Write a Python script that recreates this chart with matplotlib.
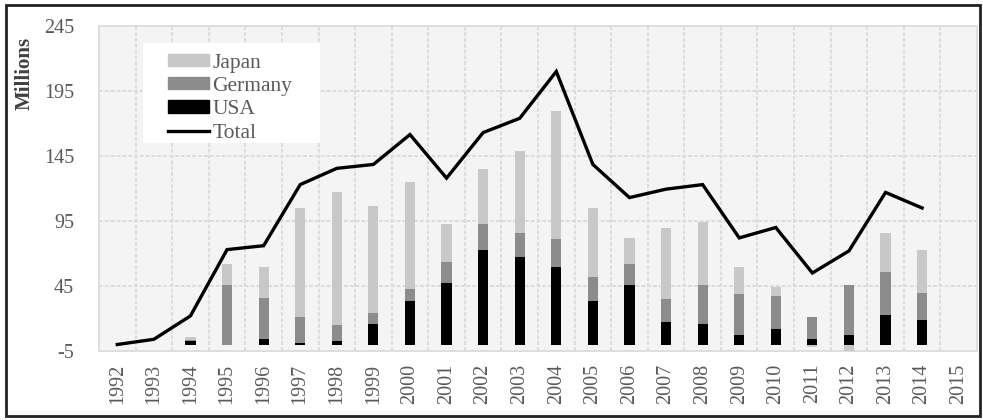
import matplotlib.pyplot as plt
import numpy as np
from matplotlib.patches import Rectangle, Patch
from matplotlib.lines import Line2D

plt.rcParams['font.family'] = ['Liberation Serif', 'DejaVu Serif']
plt.rcParams['axes.unicode_minus'] = False

years = [str(y) for y in range(1992, 2016)]

# values in millions (None = no value)
usa = [0, 0, 3, 0, 4.5, 1, 3, 16, 33.5, 47.5, 73, 67, 60, 33.5, 46, 17, 15.5, 7, 12, 4, 7, 22.5, 19, 0]
germany = [0, 0, 0.5, 46, 31, 20, 12, 8, 9.5, 16, 20, 18.5, 21, 18.5, 16, 18, 30.5, 31.5, 25, 17.5, 39, 33.5, 21, 0]
japan = [0, 0, 2, 16, 24, 84, 102, 82.5, 82, 29.5, 42, 63.5, 99, 53, 20, 55, 48, 21.5, 7.5, -2, -7, 29.5, 33, 0]
total = [0, 4, 22, 73, 76, 123, 135.5, 138.5, 161.5, 128, 163, 174, 210, 138.5, 113, 119.5, 123, 82, 90, 55, 72, 117, 105, None]

fig = plt.figure(figsize=(9.83, 4.2), dpi=100)
ax = fig.add_axes([99 / 983, 1 - 351 / 420, 878 / 983, 325 / 420])

x = np.arange(len(years))
usa = np.array(usa, dtype=float)
germany = np.array(germany, dtype=float)
japan = np.array(japan, dtype=float)
w = 0.28

ax.bar(x, usa, w, color='#000000', zorder=3)
ax.bar(x, germany, w, bottom=usa, color='#8c8c8c', zorder=3)
# negative Japan values hang below zero, like Excel does
jap_bottom = np.where(japan >= 0, usa + germany, 0)
ax.bar(x, japan, w, bottom=jap_bottom, color='#c8c8c8', zorder=3)

tot = np.array([np.nan if v is None else v for v in total])
ax.plot(x, tot, color='black', lw=2.4, zorder=4, solid_joinstyle='miter')

ax.set_xlim(-0.5, len(years) - 0.5)
ax.set_ylim(-5, 245)
ax.set_yticks([-5, 45, 95, 145, 195, 245])
ax.set_xticks(x)
ax.set_xticklabels(years, rotation=90)
ax.set_xticks(x[:-1] + 0.5, minor=True)
ax.tick_params(axis='both', which='both', length=0, labelsize=14.5, colors='#5a5a5a')
ax.tick_params(axis='x', pad=9)
ax.tick_params(axis='y', pad=18)
ax.set_facecolor('#f4f4f4')
ax.grid(True, axis='y', which='major', color='#dcdcdc', lw=1.4, ls=(0, (2, 1)), zorder=1)
ax.grid(True, axis='x', which='minor', color='#dcdcdc', lw=1.4, ls=(0, (2, 1)), zorder=1)
for s in ax.spines.values():
    s.set_color('#dedede')
    s.set_linewidth(1.4)

ax.set_ylabel('Millions', fontsize=15, fontweight='bold', color='#404040')
ax.yaxis.set_label_coords(-0.073, 0.855)

# white box behind the legend (wider than the entries, as in the original)
ax.add_patch(Rectangle((0.0501, 0.64), 0.2016, 0.3077, transform=ax.transAxes,
                       facecolor='white', edgecolor='none', zorder=5))
handles = [Patch(color='#c8c8c8'), Patch(color='#8c8c8c'), Patch(color='#000000'),
           Line2D([], [], color='black', lw=2.4)]
leg = ax.legend(handles, ['Japan', 'Germany', 'USA', 'Total'], loc='upper left',
                bbox_to_anchor=(0.0786, 0.915), borderaxespad=0, borderpad=0,
                fontsize=15.5, frameon=False,
                handlelength=1.9, handleheight=0.5, handletextpad=0.15,
                labelspacing=0.2)
for t in leg.get_texts():
    t.set_color('#5a5a5a')
leg.set_zorder(6)

fig.patches.append(Rectangle((6 / 983, 4 / 420), 974 / 983, 411 / 420, transform=fig.transFigure,
                             fill=False, edgecolor='#222222', lw=2))

fig.savefig('out.png', dpi=100)
